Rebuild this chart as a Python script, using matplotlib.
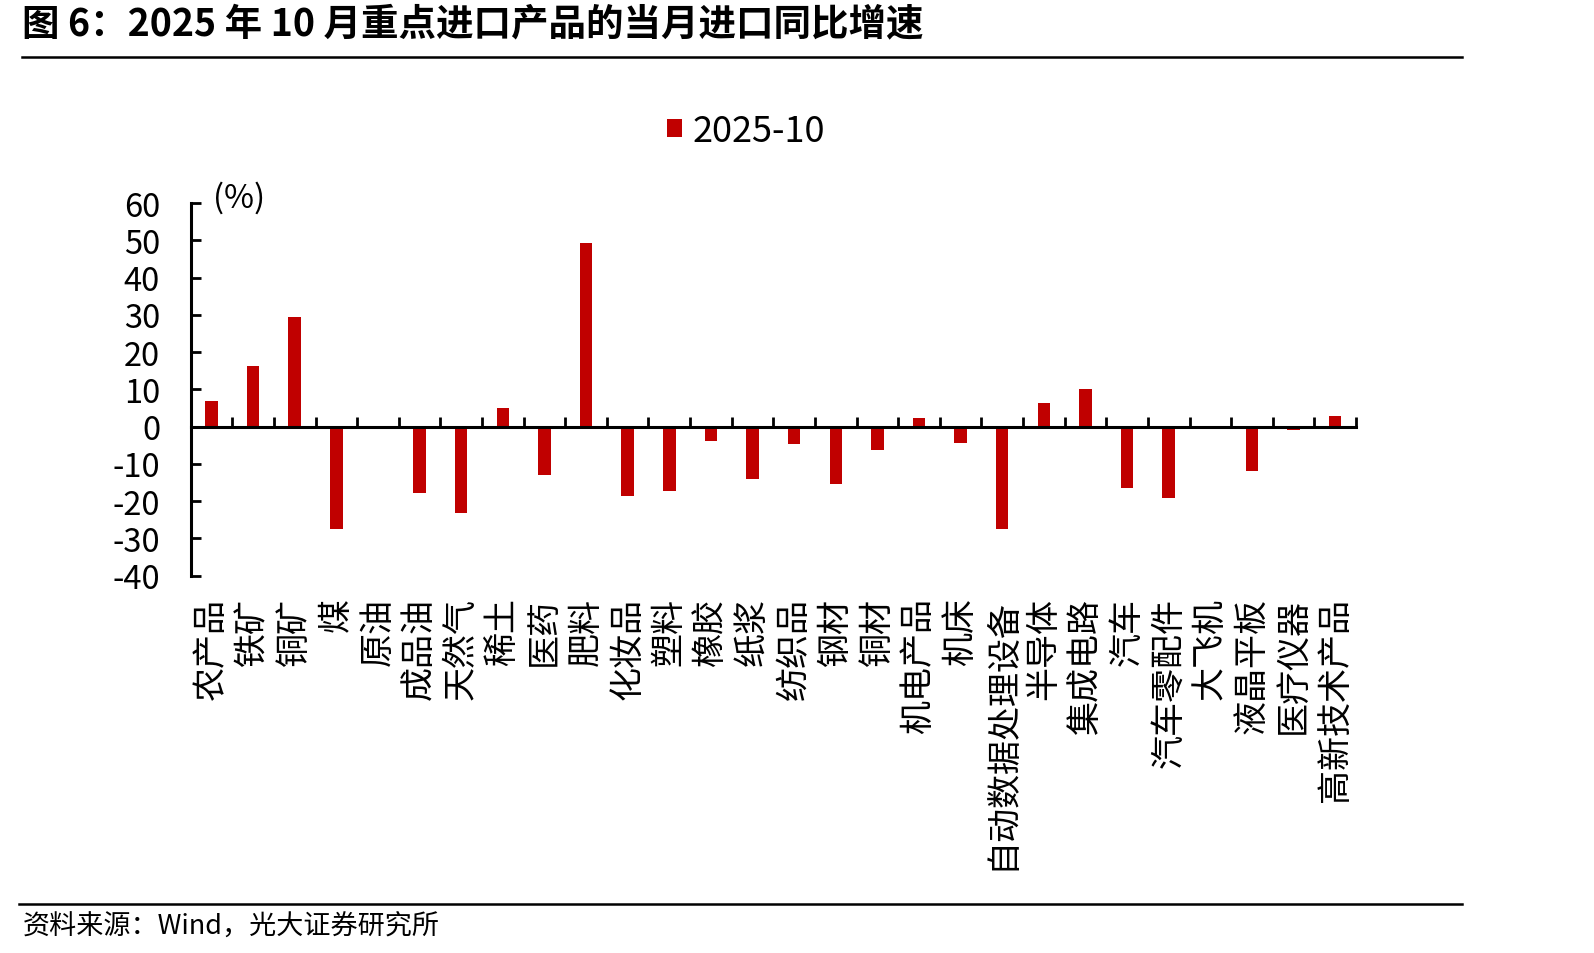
import matplotlib.pyplot as plt
import numpy as np
from matplotlib.lines import Line2D

plt.rcParams['font.family'] = ['Noto Sans CJK SC', 'DejaVu Sans']
plt.rcParams['axes.unicode_minus'] = False

products = ['农产品', '铁矿', '铜矿', '煤', '原油', '成品油', '天然气', '稀土', '医药', '肥料',
            '化妆品', '塑料', '橡胶', '纸浆', '纺织品', '钢材', '铜材', '机电产品', '机床',
            '自动数据处理设备', '半导体', '集成电路', '汽车', '汽车零配件', '大飞机', '液晶平板',
            '医疗仪器', '高新技术产品']
growth_2025_10 = [6.8, 16.4, 29.4, -27.5, 0.0, -17.9, -23.2, 4.9, -13.0, 49.2,
                  -18.6, -17.3, -3.9, -14.1, -4.7, -15.5, -6.3, 2.3, -4.3,
                  -27.4, 6.3, 10.0, -16.5, -19.1, 0.0, -12.0,
                  -0.9, 2.8]
y_ticks = list(range(-40, 61, 10))
series_name = '2025-10'
bar_color = '#C00000'

fig = plt.figure(figsize=(15.94, 9.54), dpi=100)
ax = fig.add_axes([0.1196, 0.3955, 0.7311, 0.3905])

x = np.arange(len(products))
ax.bar(x, growth_2025_10, width=0.3, color=bar_color, label=series_name, zorder=2)

ax.set_xlim(-0.5, len(products) - 0.5)
ax.set_ylim(-40, 60)
ax.set_yticks(y_ticks)
ax.tick_params(axis='y', direction='in', length=7, width=2, labelsize=23.5, pad=22)

# zero line as the x axis, with boundary ticks pointing up
ax.spines['bottom'].set_position(('data', 0))
ax.spines['bottom'].set_linewidth(2.2)
ax.spines['left'].set_linewidth(2.2)
ax.spines['top'].set_visible(False)
ax.spines['right'].set_visible(False)
ax.set_xticks(np.arange(len(products) + 1) - 0.5)
ax.tick_params(axis='x', direction='in', length=7, width=2, labelbottom=False)

# category labels below the plot area
sec = ax.secondary_xaxis(0)
sec.set_xticks(x, labels=products, rotation=90, va='top', ha='center', fontsize=24.5)
sec.tick_params(axis='x', length=0, pad=15)
sec.spines['bottom'].set_visible(False)

fig.text(0.1335, 0.792, '(%)', fontsize=23.5, va='center', ha='left')

fig.legend(loc='center', bbox_to_anchor=(0.468, 0.862), frameon=False, fontsize=26,
           handlelength=0.4, handleheight=0.4, handletextpad=0.3)

fig.text(0.014, 0.974, '图 6：2025 年 10 月重点进口产品的当月进口同比增速', fontsize=27,
         fontweight='bold', va='center', ha='left')
fig.add_artist(Line2D([0.014, 0.917], [0.939, 0.939], color='black', lw=1.8))
fig.add_artist(Line2D([0.012, 0.917], [0.0515, 0.0515], color='black', lw=1.8))
fig.text(0.014, 0.028, '资料来源：Wind，光大证券研究所', fontsize=19.5, va='center', ha='left')

fig.savefig('out.png', dpi=100, facecolor='white')
